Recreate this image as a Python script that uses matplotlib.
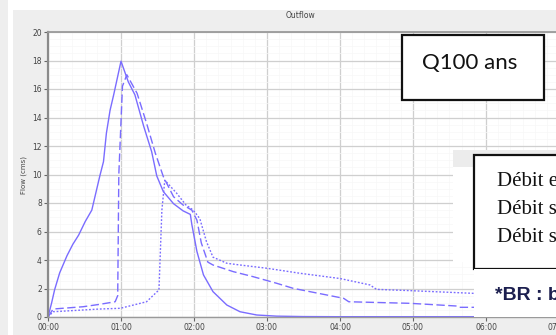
import matplotlib
matplotlib.use("Agg")
import matplotlib.pyplot as plt
import matplotlib.patches as patches
from matplotlib.ticker import MultipleLocator, FuncFormatter

# hours since start / flow (cms)
t_in = [0, 0.05, 0.09, 0.16, 0.26, 0.34, 0.42, 0.51, 0.60, 0.71, 0.76, 0.80, 0.85, 0.90,
        1.00, 1.10, 1.19, 1.31, 1.42, 1.49, 1.58, 1.72, 1.85, 1.95, 1.97, 2.04, 2.13,
        2.26, 2.45, 2.63, 2.86, 3.13, 3.50, 4.00, 6.20]
q_in = [0, 1.0, 1.9, 3.1, 4.3, 5.1, 5.75, 6.7, 7.5, 9.9, 10.9, 12.9, 14.5, 15.6,
        17.95, 16.5, 15.6, 13.4, 11.6, 9.9, 8.8, 7.95, 7.45, 7.2, 6.5, 4.6, 2.95,
        1.78, 0.84, 0.37, 0.14, 0.06, 0.03, 0.02, 0.02]

t_br1 = [0, 0.07, 0.48, 0.71, 0.92, 0.955, 0.97, 1.02, 1.08, 1.22, 1.35, 1.47, 1.58,
         1.72, 1.85, 1.97, 2.04, 2.10, 2.19, 2.26, 2.54, 2.81, 3.13, 3.36, 4.05, 4.12,
         4.96, 5.60, 5.64, 6.20]
q_br1 = [0, 0.56, 0.72, 0.89, 1.07, 1.5, 10.0, 16.2, 17.0, 15.7, 13.6, 11.5, 9.85,
         8.44, 7.86, 7.5, 6.8, 5.2, 3.85, 3.65, 3.18, 2.83, 2.37, 2.01, 1.31, 1.07,
         0.96, 0.77, 0.68, 0.68]

t_br2 = [0, 0.07, 0.71, 0.99, 1.17, 1.35, 1.52, 1.56, 1.60, 1.76, 1.89, 1.99, 2.08,
         2.17, 2.26, 2.45, 2.63, 3.00, 3.45, 4.00, 4.41, 4.50, 4.96, 5.83, 6.20]
q_br2 = [0, 0.37, 0.56, 0.61, 0.84, 1.07, 1.9, 7.5, 9.6, 8.7, 7.86, 7.5, 6.9,
         5.3, 4.2, 3.77, 3.65, 3.42, 3.07, 2.7, 2.25, 1.94, 1.85, 1.66, 1.6]

W, H = 556, 335
fig = plt.figure(figsize=(W / 100, H / 100), dpi=100)
fig.patch.set_facecolor("white")


def px_box(x, y, w, h):
    # pixel box (top-left origin) -> figure fractions
    return (x / W, 1 - (y + h) / H, w / W, h / H)


def add_rect(x, y, w, h, fc, ec="none", lw=0, z=0):
    l, b, ww, hh = px_box(x, y, w, h)
    fig.patches.append(patches.Rectangle((l, b), ww, hh, transform=fig.transFigure,
                                         facecolor=fc, edgecolor=ec, linewidth=lw,
                                         zorder=z))


# grey window background of the screenshot
add_rect(0, 0, 8, H, "#eeeeee", z=-5)
add_rect(13, 10, W - 13, H - 10, "#eeeeee", z=-5)
fig.text(300 / W, 1 - 16 / H, "Outflow", ha="center", va="center", fontsize=5.5,
         color="#444444")

# plot area: x=0h at 48px, 73 px/h ; y 0..20 from 317px to 32px
x0, y0, y1, pph = 48, 317, 32, 73.0
xmax = 7.2
l, b, w, h = px_box(x0, y1, pph * xmax, y0 - y1)
ax = fig.add_axes([l, b, w, h])
ax.set_zorder(1)
ax.set_facecolor("white")
ax.set_xlim(0, xmax)
ax.set_ylim(0, 20)

ax.xaxis.set_major_locator(MultipleLocator(1))
ax.xaxis.set_minor_locator(MultipleLocator(1 / 6))
ax.yaxis.set_major_locator(MultipleLocator(2))
ax.yaxis.set_minor_locator(MultipleLocator(0.5))
ax.xaxis.set_major_formatter(FuncFormatter(lambda v, p: f"{int(round(v)):02d}:00"))
ax.grid(which="major", color="#cfcfcf", linewidth=0.9)
ax.grid(which="minor", color="#f7f7f7", linewidth=0.5)
ax.set_axisbelow(True)
ax.tick_params(which="major", labelsize=5.5, labelcolor="#444444", color="#666666",
               length=3, width=0.8, pad=1.5)
ax.tick_params(which="minor", length=0)
ax.set_ylabel("Flow (cms)", fontsize=5, color="#444444", labelpad=4)

ax.spines["right"].set_visible(False)
ax.spines["left"].set_color("#8a8a8a")
ax.spines["left"].set_linewidth(1.6)
ax.spines["top"].set_color("#9a9a9a")
ax.spines["top"].set_linewidth(1.3)
ax.spines["bottom"].set_color("#9a9a9a")
ax.spines["bottom"].set_linewidth(1.0)

col = "#7a6cff"
ax.plot(t_in, q_in, color=col, lw=1.0, solid_joinstyle="round")
ax.plot(t_br1, q_br1, color=col, lw=1.0, linestyle=(0, (6, 2.5)))
ax.plot(t_br2, q_br2, color=col, lw=1.0, linestyle=(0, (1.3, 1.3)))

# pasted annotation images on top of the chart
add_rect(453, 150, W - 453, 112, "white", z=5)
add_rect(453, 150, W - 453, 17, "#ececec", z=5)
add_rect(474, 155, 100, 114, "white", ec="#111111", lw=1.6, z=6)
add_rect(474, 269, W - 474, 48, "white", z=6)
add_rect(402, 35, 142, 65, "white", ec="#111111", lw=1.6, z=6)

fig.text(422 / W, 1 - 63 / H, "Q100 ans", fontsize=16, family="Lato",
         ha="left", va="center", color="#111111", zorder=7)
for i, s in enumerate(["Débit entrant", "Débit sortant BR 1", "Débit sortant BR 2"]):
    fig.text(497 / W, 1 - (181 + 28 * i) / H, s, fontsize=15, family="Liberation Serif",
             ha="left", va="center", color="#111111", zorder=7)
fig.text(495 / W, 1 - 295 / H, "*BR : bassin de rétention", fontsize=14,
         family="Liberation Sans", fontweight="bold", ha="left", va="center",
         color="#1c1f4f", zorder=7)

fig.savefig("out.png", dpi=100, facecolor="white")
